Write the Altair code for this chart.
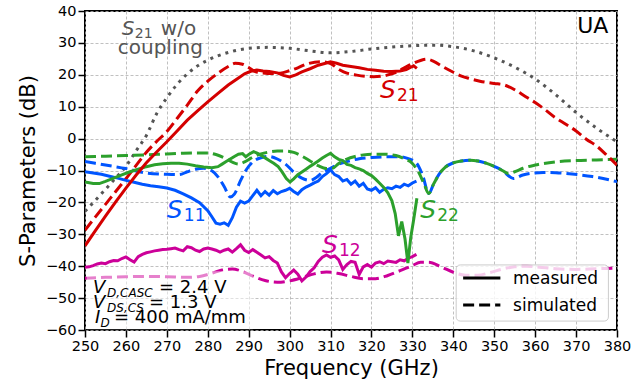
import altair as alt
import pandas as pd

RED = "#d40000"
BLUE = "#0055ff"
GREEN = "#2ca02c"
MAGENTA = "#cc0099"
GRAY = "#555555"
FONT = "DejaVu Sans"

# --- S21 without coupling (simulated, dotted) ---
wo_f = [250, 252.5, 255, 257.5, 260, 262.5, 265, 267.5, 270, 272.5, 275, 277.5, 280, 285,
        290, 295, 300, 305, 310, 315, 320, 325, 330, 335, 340, 345, 350, 355, 360, 365,
        370, 375, 380]
wo_db = [-22.8, -19.4, -15.9, -12.3, -8.7, -3.8, 1.0, 7.8, 12.8, 17.0, 20.3, 22.8, 24.6, 27.0,
         28.3, 28.6, 28.3, 27.5, 26.9, 27.3, 28.1, 28.7, 29.1, 29.3, 28.8, 27.5, 25.3, 22.4,
         18.7, 13.8, 8.2, 3.3, -1.0]

# --- S21 ---
s21m_f = [250, 252.5, 255, 257.5, 260, 262.5, 265, 267.5, 270, 272.5, 275, 277.5, 280, 282.5,
          285, 287.5, 289, 290.5, 292, 293.5, 295, 297, 298.5, 300, 301.5, 303, 305, 307, 309,
          310, 311.5, 313, 315, 317, 319, 321, 323, 325, 327, 328.5, 329.5, 330.3, 331.1]
s21m_db = [-33.6, -28.9, -24.3, -19.8, -15.5, -11.4, -7.6, -4.2, -1.0, 2.4, 5.8, 8.7, 11.5, 14.2,
           16.8, 19.0, 20.3, 21.1, 21.5, 21.2, 21.0, 20.6, 19.8, 19.3, 20.0, 20.9, 21.9, 23.0, 23.7,
           24.1, 23.6, 23.0, 22.6, 22.2, 21.7, 21.4, 21.1, 21.0, 21.2, 21.6, 22.3, 22.8, 22.0]
s21s_f = [250, 252.5, 255, 257.5, 260, 262.5, 265, 267.5, 270, 272.5, 275, 277.5, 280, 282.5,
          285, 286.7, 288.5, 290, 291.6, 293.5, 295.5, 297.7, 300, 302, 304, 307.5, 310, 312.3,
          314, 316.4, 320.5, 323.8, 326, 327.8, 330.2, 332, 333.5, 335.2, 337.5, 340, 342, 344,
          346.5, 350, 352.5, 355, 357.5, 360, 362.5, 365, 367.5, 370, 372.5, 375, 377.5, 380]
s21s_db = [-28.7, -24.6, -20.6, -16.6, -12.6, -8.4, -4.3, -0.9, 2.2, 6.3, 10.5, 14.9, 18.0, 20.5,
           22.6, 23.6, 23.3, 22.3, 21.0, 20.6, 20.4, 20.5, 21.3, 22.2, 23.3, 24.1, 23.5, 21.5,
           20.5, 19.9, 19.4, 19.9, 20.8, 22.0, 23.6, 24.5, 24.9, 24.2, 22.5, 20.8, 19.6, 18.8,
           18.0, 17.3, 16.8, 15.3, 13.3, 11.3, 9.0, 6.5, 4.5, 2.4, -0.2, -2.3, -5.2, -8.3]

# --- S11 ---
s11m_f = [250, 252, 254, 256, 258, 260, 262, 264, 266, 268, 270, 272, 274, 276, 278, 280, 281,
          282, 283, 284, 285, 286, 287, 288, 289, 290, 291, 292, 293, 294, 295, 296, 297, 298,
          299, 300, 301, 302, 303, 304, 305, 306, 307, 308, 309, 310, 311, 312, 313, 314, 315,
          316, 317, 318, 319, 320, 321, 322, 323, 324, 325, 326, 327, 328, 329, 330, 331]
s11m_db = [-10.4, -10.8, -11.2, -11.8, -12.4, -13.1, -13.7, -14.3, -14.8, -15.1, -15.5, -16.2,
           -17.3, -18.6, -20.1, -22.6, -24.5, -26.5, -26.8, -26.4, -27.2, -24.8, -21.5, -19.6,
           -20.2, -19.6, -17.9, -16.2, -17.9, -16.6, -17.7, -16.3, -17.3, -16.6, -16.2, -15.6,
           -16.6, -17.4, -16.0, -15.2, -14.6, -13.9, -13.3, -11.9, -11.0, -9.8, -11.3, -11.9,
           -13.3, -12.8, -14.3, -13.3, -14.9, -14.0, -15.8, -16.2, -15.4, -16.8, -15.9, -15.4,
           -15.7, -14.9, -15.3, -14.3, -14.8, -13.9, -13.3]
s11s_f = [250, 255, 260, 265, 270, 273, 275, 277, 279, 281, 282.5, 284, 285.5, 286.5, 288,
          289.5, 291, 293, 295, 297, 299, 301, 303, 305, 306.5, 308, 310, 312, 314, 317, 320,
          324, 327, 329, 331, 332.5, 334, 335.2, 336.5, 338, 340, 342, 344, 346, 348, 350, 352,
          354.7, 357, 359, 362, 365, 369, 374, 380]
s11s_db = [-7.2, -8.3, -9.4, -10.8, -11.2, -11.3, -10.4, -9.6, -9.3, -10.1, -12.0, -15.0, -18.3,
           -17.4, -13.2, -9.6, -7.3, -6.0, -5.6, -6.4, -8.0, -10.5, -12.4, -13.1, -12.2, -10.6,
           -9.3, -8.0, -7.2, -6.3, -5.9, -5.7, -5.7, -6.3, -7.7, -11.5, -17.2, -14.2, -11.2,
           -9.0, -7.6, -7.0, -6.8, -7.0, -7.7, -8.7, -10.0, -12.5, -11.4, -10.9, -10.6, -10.7,
           -11.1, -11.9, -13.5]

# --- S22 ---
s22m_f = [250, 252, 253.5, 255, 257, 259, 261, 263, 265, 267, 269, 271, 273, 275, 277, 279, 281,
          282.5, 283.5, 284.5, 285.5, 286.5, 287.5, 288.5, 289.3, 290.2, 291.2, 292.2, 293.2,
          294.2, 295.2, 296.2, 297.2, 298.2, 299.2, 300.1, 301, 302, 303, 304, 305, 306, 307,
          308, 309, 310, 311, 312, 313, 314, 315, 316, 317, 318, 319, 320, 321, 322, 323, 324,
          325, 325.8, 326.6, 327.4, 328.2, 328.9, 329.6, 330.3, 331.1]
s22m_db = [-13.6, -14.1, -14.1, -13.4, -12.4, -11.4, -10.4, -9.6, -8.8, -8.2, -7.9, -7.7, -7.7,
           -8.0, -8.5, -8.9, -9.1, -8.8, -8.0, -7.2, -6.4, -5.6, -4.9, -4.7, -5.7, -4.8, -4.1,
           -4.6, -5.4, -6.2, -7.0, -7.8, -8.8, -10.5, -12.5, -13.6, -12.6, -11.3, -10.5, -9.6,
           -8.7, -7.9, -7.0, -6.1, -5.3, -4.6, -5.7, -6.5, -6.9, -8.1, -8.4, -9.1, -9.5, -10.0,
           -10.9, -11.6, -12.7, -14.0, -15.3, -17.0, -19.5, -23.5, -30.5, -26.0, -31.5, -39.0,
           -31.0, -25.5, -18.7]
s22s_f = [250, 255, 260, 265, 270, 274, 278, 280, 282, 284, 286, 287.5, 289, 291, 293, 295, 297,
          299, 301, 303, 305, 307, 309, 310.5, 312, 314, 316, 318, 320, 323, 326, 328, 330,
          331.5, 332.8, 334, 335.2, 336.5, 338, 340, 342, 344, 346, 348, 350, 352, 353.5, 355,
          357, 360, 365, 370, 375, 380]
s22s_db = [-5.7, -5.5, -5.3, -5.1, -4.8, -4.6, -4.5, -4.5, -5.0, -6.0, -7.4, -8.0, -7.3, -5.8,
           -4.8, -4.2, -3.9, -3.9, -4.3, -5.5, -7.0, -8.5, -9.4, -9.3, -7.8, -6.4, -5.6, -5.1,
           -4.9, -4.9, -5.3, -6.3, -7.8, -10.5, -14.0, -17.2, -14.2, -11.2, -9.0, -7.6, -7.0,
           -6.8, -7.0, -7.7, -8.7, -10.0, -11.0, -10.4, -9.3, -8.3, -7.3, -6.9, -6.7, -6.5]

# --- S12 ---
s12m_f = list(range(250, 332))
s12m_db = [-40.3, -40.2, -39.8, -39.3, -39.0, -39.2, -38.6, -38.2, -38.3, -37.6, -37.1, -38.0,
           -38.7, -37.0, -36.3, -35.8, -35.5, -35.2, -35.0, -34.8, -34.7, -34.5, -34.3, -34.8,
           -35.2, -33.9, -34.2, -35.0, -35.4, -34.6, -34.3, -34.6, -35.0, -35.6, -35.0, -34.6,
           -35.6, -34.5, -33.3, -35.0, -35.7, -34.8, -35.6, -36.5, -37.4, -37.0, -38.2, -39.0,
           -41.8, -43.6, -42.3, -41.2, -42.5, -44.6, -43.4, -41.7, -40.5, -38.5, -37.2, -36.5,
           -37.2, -36.8, -38.0, -41.0, -39.5, -38.5, -38.8, -42.6, -40.2, -39.5, -40.3, -39.0,
           -38.6, -39.2, -38.4, -38.6, -38.8, -38.0, -38.3, -37.5, -37.0, -36.3]
s12s_f = [250, 255, 260, 265, 270, 275, 278, 281, 283.5, 286, 288.5, 291, 294, 297, 300, 303,
          306, 309, 312, 315, 318, 321, 324, 327, 330, 332, 334, 337, 340, 343, 346, 349, 352,
          355, 358, 361, 365, 370, 375, 380]
s12s_db = [-43.8, -43.5, -43.3, -43.2, -43.3, -43.5, -43.2, -42.2, -41.2, -40.9, -41.7, -43.1,
           -44.5, -45.0, -44.6, -43.6, -42.4, -41.8, -42.3, -43.2, -43.9, -43.9, -42.9, -41.4,
           -39.8, -38.8, -38.8, -40.2, -41.9, -42.8, -42.8, -42.0, -40.9, -40.2, -40.0, -40.3,
           -40.8, -41.0, -40.8, -40.6]

# trace labels (S + subscript), anchored at the left end of the "S" baseline
label_sub = ["21", "11", "22", "12"]
label_f = [322.1, 270.0, 331.9, 307.9]
label_db = [12.7, -24.9, -24.9, -35.9]
label_color = [RED, BLUE, GREEN, MAGENTA]

# bias conditions box
bias_main = ["V", "V", "I"]
bias_sub = ["D,CASC", "DS,CS", "D"]
bias_rest = ["= 2.4 V", "= 1.3 V", "= 400 mA/mm"]
bias_f = 251.96
bias_db = [-48.4, -53.1, -57.8]
bias_box = {"f": 250.4, "f2": 291.0, "db": -41.6, "db2": -59.8}

# legend
legend_names = ["measured", "simulated"]
legend_db = [-43.7, -52.2]
legend_box = {"f": 340.7, "f2": 377.9, "db": -39.6, "db2": -57.2}
legend_line_f = (342.4, 351.5)
legend_text_f = 354.6

x_scale = alt.Scale(domain=[250, 380], nice=False, zero=False)
y_scale = alt.Scale(domain=[-60, 40], nice=False, zero=False)
common_axis = dict(grid=True, gridDash=[3, 2], gridColor="#b0b0b0", gridWidth=0.8,
                   tickSize=7, tickWidth=1.5, tickColor="black", domain=False,
                   labelFont=FONT, labelFontSize=14.5, labelColor="black", labelFlush=False,
                   labelOverlap=False, labelPadding=2, titleFont=FONT, titleFontSize=21,
                   titleFontWeight="normal", titleColor="black")
x_axis = alt.Axis(values=list(range(250, 381, 10)), title="Frequency (GHz)", titlePadding=5,
                  **common_axis)
y_axis = alt.Axis(values=list(range(-60, 41, 10)), title="S-Parameters (dB)", titlePadding=7,
                  **common_axis)


def xy(fx="f", fy="db"):
    return dict(x=alt.X(f"{fx}:Q", scale=x_scale, axis=x_axis),
                y=alt.Y(f"{fy}:Q", scale=y_scale, axis=y_axis))


SOLID = None
DASHED = [11, 5]
DOTTED = [3, 5]


def trace(f, db, color, dash, interp="linear"):
    props = dict(color=color, strokeWidth=3, interpolate=interp, clip=True)
    if dash is not None:
        props["strokeDash"] = dash
    df = pd.DataFrame({"f": f, "db": db})
    return alt.Chart(df).mark_line(**props).encode(**xy())


layers = [
    trace(wo_f, wo_db, GRAY, DOTTED, "monotone"),
    trace(s12s_f, s12s_db, MAGENTA, DASHED, "monotone"),
    trace(s11s_f, s11s_db, BLUE, DASHED, "monotone"),
    trace(s22s_f, s22s_db, GREEN, DASHED, "monotone"),
    trace(s21s_f, s21s_db, RED, DASHED, "monotone"),
    trace(s12m_f, s12m_db, MAGENTA, SOLID),
    trace(s11m_f, s11m_db, BLUE, SOLID),
    trace(s22m_f, s22m_db, GREEN, SOLID),
    trace(s21m_f, s21m_db, RED, SOLID),
]

# trace name labels
lab_df = pd.DataFrame({"f": label_f, "db": label_db, "sub": label_sub, "c": label_color})
layers.append(alt.Chart(lab_df).mark_text(
    text="S", font=FONT, fontStyle="italic", fontSize=25, align="left", baseline="alphabetic"
).encode(color=alt.Color("c:N", scale=None), **xy()))
layers.append(alt.Chart(lab_df).mark_text(
    font=FONT, fontSize=17, align="left", baseline="alphabetic", dx=17, dy=3
).encode(text="sub:N", color=alt.Color("c:N", scale=None), **xy()))

# "S21 w/o coupling" note
wo_df = pd.DataFrame({"f": [259.0], "db": [32.5]})
layers.append(alt.Chart(wo_df).mark_text(
    text="S", font=FONT, fontStyle="italic", fontSize=20, align="left", color=GRAY,
    baseline="alphabetic").encode(**xy()))
layers.append(alt.Chart(wo_df).mark_text(
    text="21", font=FONT, fontSize=14, align="left", color=GRAY, baseline="alphabetic",
    dx=13, dy=3).encode(**xy()))
layers.append(alt.Chart(wo_df).mark_text(
    text="w/o", font=FONT, fontSize=20, align="left", color=GRAY, baseline="alphabetic",
    dx=39).encode(**xy()))
layers.append(alt.Chart(pd.DataFrame({"f": [268.4], "db": [26.4]})).mark_text(
    text="coupling", font=FONT, fontSize=20, align="center", color=GRAY,
    baseline="alphabetic").encode(**xy()))

# "UA" tag
layers.append(alt.Chart(pd.DataFrame({"f": [377.9], "db": [33.1]})).mark_text(
    text="UA", font=FONT, fontSize=22, align="right", color="black",
    baseline="alphabetic").encode(**xy()))

# bias condition box
layers.append(alt.Chart(pd.DataFrame([bias_box])).mark_rect(
    color="white", opacity=0.5).encode(x2="f2:Q", y2="db2:Q", **xy()))
bias_df = pd.DataFrame({"f": [bias_f] * 3, "db": bias_db, "main": bias_main,
                        "sub": bias_sub, "rest": bias_rest})
for i, (main_dx, sub_dx, rest_dx) in enumerate([(0, 14, 66), (0, 14, 56), (2, 7.5, 21)]):
    row = bias_df.iloc[[i]]
    layers.append(alt.Chart(row).mark_text(
        font=FONT, fontStyle="italic", fontSize=18, align="left", baseline="alphabetic",
        color="black", dx=main_dx).encode(text="main:N", **xy()))
    layers.append(alt.Chart(row).mark_text(
        font=FONT, fontStyle="italic", fontSize=12, align="left", baseline="alphabetic",
        color="black", dx=sub_dx, dy=4).encode(text="sub:N", **xy()))
    layers.append(alt.Chart(row).mark_text(
        font=FONT, fontSize=18, align="left", baseline="alphabetic",
        color="black", dx=rest_dx).encode(text="rest:N", **xy()))

# legend
layers.append(alt.Chart(pd.DataFrame([legend_box])).mark_rect(
    fill="white", fillOpacity=0.8, stroke="#cccccc", strokeWidth=1, cornerRadius=4
).encode(x2="f2:Q", y2="db2:Q", **xy()))
leg_df = pd.DataFrame({"f": [legend_line_f[0]] * 2, "f2": [legend_line_f[1]] * 2,
                       "db": legend_db, "name": legend_names})
layers.append(alt.Chart(leg_df.iloc[[0]]).mark_rule(color="black", strokeWidth=3).encode(
    x2="f2:Q", **xy()))
layers.append(alt.Chart(leg_df.iloc[[1]]).mark_rule(
    color="black", strokeWidth=3, strokeDash=DASHED).encode(x2="f2:Q", **xy()))
leg_txt = pd.DataFrame({"f": [legend_text_f] * 2, "db": legend_db, "name": legend_names})
layers.append(alt.Chart(leg_txt).mark_text(
    font=FONT, fontSize=17, align="left", baseline="middle", color="black", dy=1
).encode(text="name:N", **xy()))

chart = alt.layer(*layers).properties(
    width=532, height=319,
    autosize=alt.AutoSizeParams(type="none"),
    padding={"left": 85, "top": 11, "right": 27, "bottom": 56},
    background="white",
).configure_view(stroke="black", strokeWidth=2)

chart.save("out.html", embed_options={"renderer": "svg", "actions": False})
